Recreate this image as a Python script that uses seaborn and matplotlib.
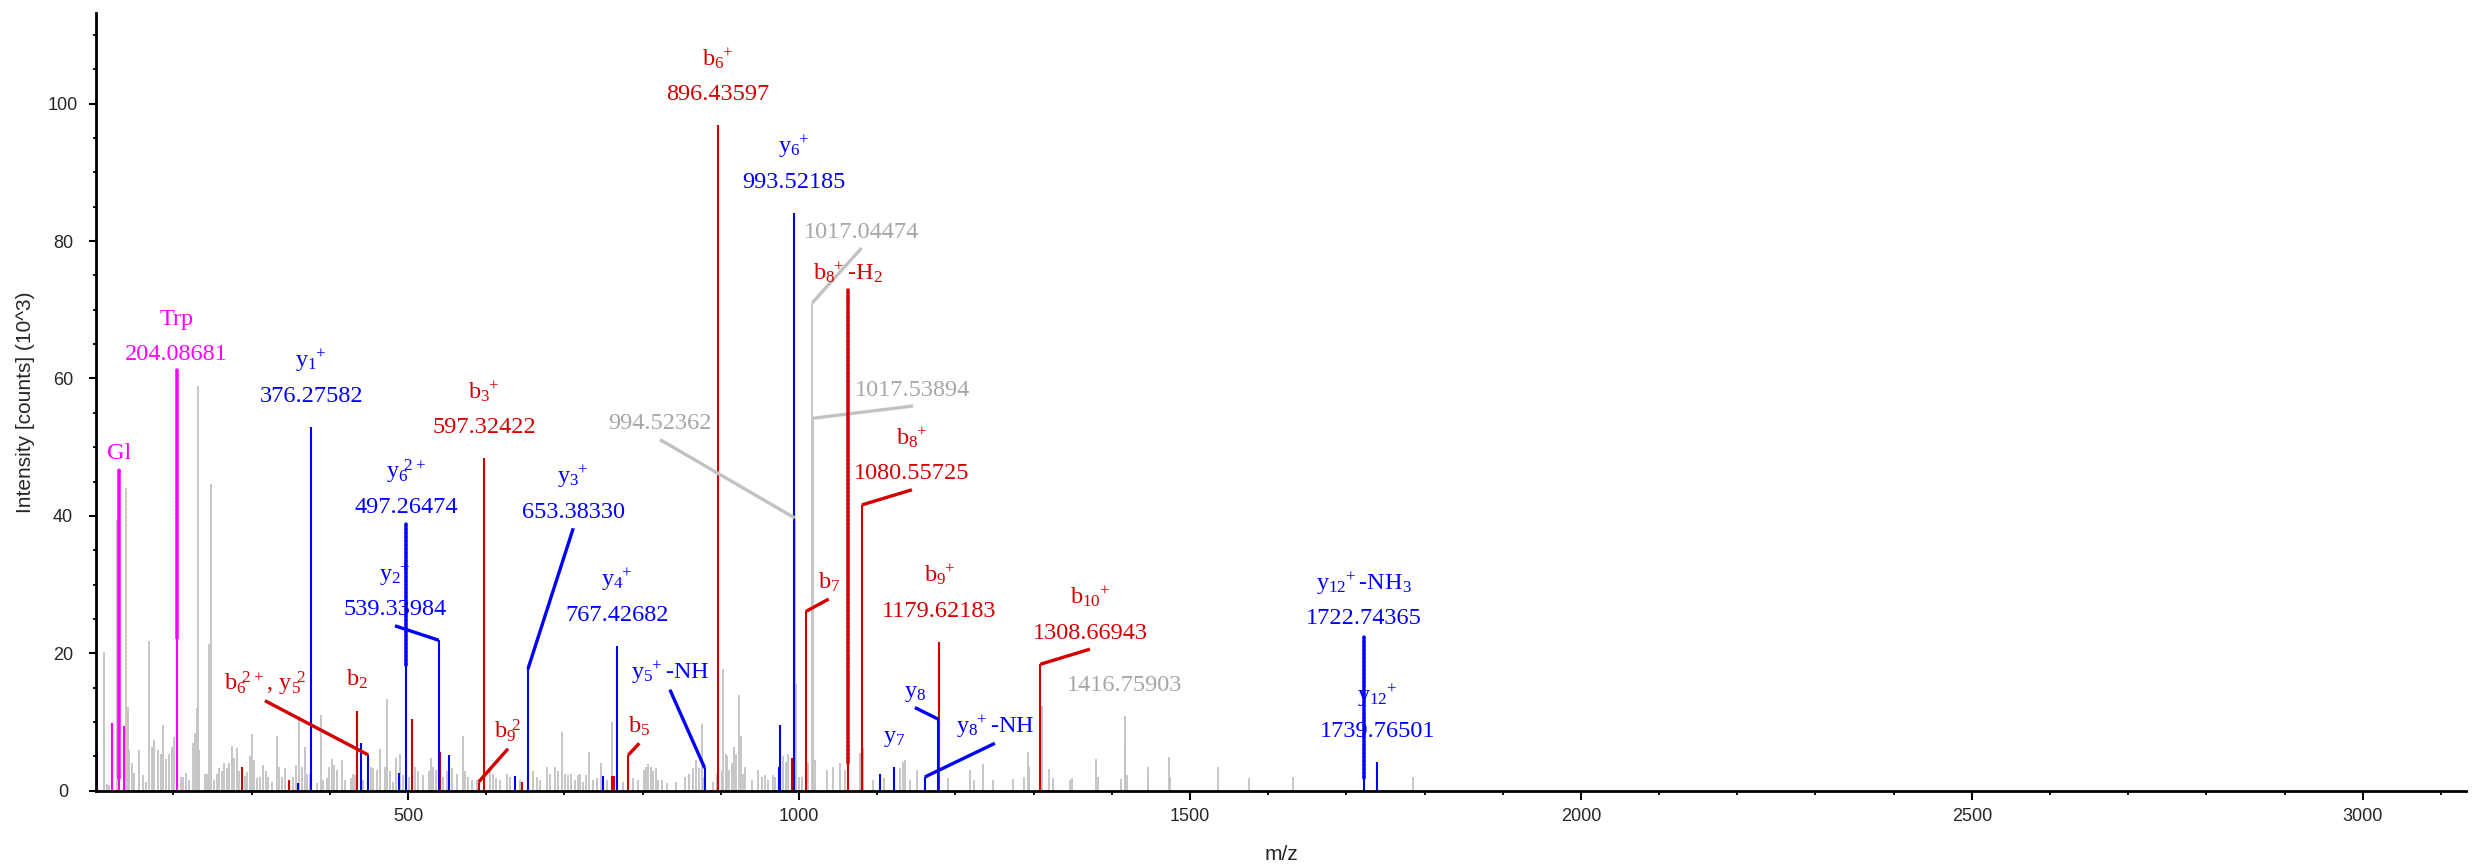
import matplotlib
matplotlib.use("Agg")
import matplotlib.pyplot as plt
from matplotlib.ticker import MultipleLocator
import seaborn as sns

# === Data: peak lists (m/z, intensity in 10^3 counts) ===
gray_mz = [111.3, 115.0, 117.5, 127.5, 139.4, 141.6, 143.7, 146.7, 150.1, 156.1, 160.8, 165.0,
           169.3, 172.3, 175.7, 180.8, 184.2, 187.2, 190.6, 194.4, 197.8, 201.2, 209.3, 212.8,
           216.2, 219.5, 225.5, 227.7, 229.8, 231.1, 233.2, 240.5, 243.4, 246.2, 247.8, 252.0,
           255.4, 258.8, 261.8, 264.8, 268.2, 271.6, 274.6, 277.5, 281.0, 283.9, 291.6, 294.6,
           298.0, 301.0, 303.5, 306.5, 310.8, 314.6, 318.0, 320.6, 325.7, 332.1, 334.7, 338.5,
           342.8, 353.4, 356.8, 360.7, 364.1, 368.3, 371.3, 374.7, 383.3, 388.8, 391.8, 396.0,
           399.5, 402.4, 405.4, 408.8, 415.2, 419.5, 426.7, 429.3, 432.3, 443.0, 452.3, 455.7,
           460.0, 464.2, 470.6, 473.6, 477.0, 481.3, 484.7, 489.8, 493.2, 501.8, 509.0, 513.3,
           519.7, 527.3, 529.5, 532.4, 535.9, 545.2, 549.5, 555.9, 562.3, 570.0, 573.0, 577.2,
           581.5, 587.9, 604.9, 609.2, 612.6, 617.7, 626.2, 630.5, 643.3, 660.3, 664.6, 668.8,
           677.4, 681.6, 688.0, 692.3, 697.4, 700.8, 705.1, 708.5, 713.6, 717.9, 720.0, 723.4,
           727.7, 731.9, 736.2, 741.3, 746.8, 754.1, 760.5, 774.5, 788.2, 794.6, 801.8, 804.4,
           807.4, 810.4, 812.9, 817.2, 820.2, 824.4, 831.7, 842.7, 854.3, 859.8, 864.9, 868.3,
           872.6, 875.6, 877.7, 890.5, 894.8, 901.1, 903.3, 906.3, 908.4, 911.0, 913.9, 916.9,
           919.1, 923.3, 925.4, 928.0, 931.0, 939.5, 948.0, 952.3, 956.6, 960.8, 966.4, 969.3,
           980.0, 983.4, 986.4, 994.52362, 996.2, 999.6, 1003.4, 1011.9, 1017.04474, 1017.53894,
           1020.4, 1035.4, 1044.0, 1052.6, 1059.0, 1078.0, 1082.2, 1095.0, 1108.7, 1129.1,
           1132.5, 1135.5, 1141.9, 1150.4, 1190.9, 1218.6, 1223.8, 1234.8, 1248.5, 1273.3,
           1288.2, 1293.3, 1294.6, 1310.4, 1319.7, 1324.4, 1346.6, 1348.7, 1379.8, 1382.0,
           1411.4, 1416.75903, 1417.4, 1419.1, 1445.9, 1446.8, 1473.2, 1474.5, 1536.3, 1575.5,
           1632.2, 1785.0]
gray_int = [20.2, 1.0, 0.8, 39.4, 44.0, 12.2, 5.9, 4.0, 2.6, 5.9, 2.3, 1.2,
            21.8, 6.4, 7.4, 5.9, 5.4, 9.6, 4.6, 5.3, 6.4, 7.8, 2.0, 2.0,
            2.6, 1.5, 6.9, 8.4, 12.0, 58.9, 5.9, 2.5, 2.5, 21.4, 44.7, 1.6,
            2.5, 3.3, 2.8, 4.0, 3.3, 4.0, 6.5, 4.7, 6.2, 2.8, 2.2, 2.7,
            5.0, 8.3, 4.5, 1.8, 2.0, 3.8, 2.8, 2.0, 1.3, 8.0, 3.5, 2.0,
            3.3, 2.0, 3.8, 10.8, 3.5, 6.4, 2.5, 2.5, 1.1, 11.0, 1.6, 1.8,
            3.5, 4.6, 3.7, 3.0, 4.5, 1.6, 1.8, 2.5, 2.3, 1.6, 3.5, 3.3,
            3.0, 6.1, 3.5, 13.4, 2.8, 1.3, 4.7, 5.4, 2.3, 2.0, 3.5, 2.8,
            2.3, 2.8, 4.7, 3.5, 3.0, 2.0, 2.8, 3.3, 2.5, 7.9, 2.8, 2.0,
            1.6, 1.6, 2.8, 2.5, 1.8, 1.6, 2.5, 2.0, 1.6, 2.8, 2.0, 1.6,
            3.5, 2.5, 3.5, 2.8, 8.5, 2.5, 2.3, 2.5, 1.6, 2.3, 2.5, 1.3,
            2.3, 5.7, 1.6, 1.8, 4.0, 1.6, 10.0, 1.3, 1.8, 1.6, 3.0, 3.5,
            3.9, 3.5, 2.8, 3.3, 1.6, 1.6, 1.1, 1.3, 2.0, 2.5, 3.3, 4.5,
            3.3, 9.7, 2.0, 1.3, 2.5, 2.8, 17.7, 5.4, 5.0, 3.0, 4.0, 6.4,
            5.4, 13.9, 7.9, 2.5, 3.5, 1.6, 3.0, 2.0, 2.3, 1.6, 2.3, 2.0,
            5.0, 4.2, 5.4, 39.7, 15.6, 2.0, 2.0, 4.0, 71.0, 54.2,
            4.5, 3.0, 3.5, 4.0, 3.0, 5.5, 6.2, 1.6, 1.8, 3.3,
            4.2, 4.5, 1.6, 3.0, 1.9, 3.0, 1.6, 3.9, 1.6, 1.7,
            2.0, 5.7, 3.5, 12.3, 3.1, 1.8, 1.6, 1.8, 4.6, 2.0,
            1.7, 10.9, 6.6, 2.3, 3.4, 2.0, 4.9, 2.0, 3.5, 1.8,
            2.0, 2.0]

b_mz = [287.8, 347.9, 434.4, 505.6, 541.0, 590.6, 597.32422, 646.3, 761.5, 763.0, 781.8,
        896.43597, 991.0, 1009.0, 1062.3, 1080.55725, 1179.62183, 1308.66943]
b_int = [3.4, 1.6, 11.6, 10.5, 5.7, 1.3, 48.4, 1.3, 2.1, 2.1, 5.2,
         96.9, 4.8, 26.1, 4.0, 41.6, 21.7, 18.4]

y_mz = [359.8, 376.27582, 440.0, 449.3, 489.0, 497.26474, 539.33984, 552.5, 637.0, 653.3833,
        749.8, 767.42682, 879.5, 974.8, 976.3, 993.52185, 1103.5, 1121.5, 1161.1, 1178.3,
        1722.74365, 1739.76501]
y_int = [1.1, 53.0, 7.0, 5.2, 2.6, 18.3, 21.9, 5.2, 2.1, 17.7,
         2.2, 21.1, 3.3, 3.5, 9.5, 84.1, 2.5, 3.4, 2.0, 10.4,
         1.8, 4.2]

other_mz = [102.8, 121.1, 130.9, 136.9, 204.08681]
other_int = [5.8, 9.8, 1.8, 9.4, 22.2]

# annotated peaks: ion label, m/z label, ion type, peak m/z, peak intensity
ann_ion = ['Gl', 'Trp', r'b$_6\!{}^{2+}$, y$_5\!{}^2$', r'b$_2$', r'y$_1\!{}^+$', r'y$_6\!{}^{2+}$',
           r'y$_2\!{}^+$', r'b$_3\!{}^+$', r'b$_9\!{}^2$', r'y$_3\!{}^+$', r'y$_4\!{}^+$', r'b$_5$',
           r'y$_5\!{}^+$-NH', r'b$_6\!{}^+$', r'y$_6\!{}^+$', None, r'b$_7$', None, None,
           r'b$_8\!{}^+$-H$_2$', r'b$_8\!{}^+$', r'y$_7$', r'y$_8$', r'y$_8\!{}^+$-NH',
           r'b$_9\!{}^+$', r'b$_{10}\!{}^+$', None, r'y$_{12}\!{}^+$-NH$_3$', r'y$_{12}\!{}^+$']
ann_value = [None, '204.08681', None, None, '376.27582', '497.26474',
             '539.33984', '597.32422', None, '653.38330', '767.42682', None,
             None, '896.43597', '993.52185', '994.52362', None, '1017.04474', '1017.53894',
             None, '1080.55725', None, None, None, '1179.62183',
             '1308.66943', '1416.75903', '1722.74365', '1739.76501']
ann_kind = ['other', 'other', 'b', 'b', 'y', 'y',
            'y', 'b', 'b', 'y', 'y', 'b',
            'y', 'b', 'y', 'none', 'b', 'none', 'none',
            'b', 'b', 'y', 'y', 'y', 'b',
            'b', 'none', 'y', 'y']
ann_mz = [130.9, 204.08681, 449.3, 434.4, 376.27582, 497.26474,
          539.33984, 597.32422, 590.6, 653.3833, 767.42682, 781.8,
          879.5, 896.43597, 993.52185, 994.52362, 1009.0, 1017.04474, 1017.53894,
          1062.3, 1080.55725, 1121.5, 1178.3, 1161.1, 1179.62183,
          1308.66943, 1416.75903, 1722.74365, 1739.76501]
ann_int = [1.8, 22.2, 5.2, 11.6, 53.0, 18.3,
           21.9, 48.4, 1.3, 17.7, 21.1, 5.2,
           3.3, 96.9, 84.1, 39.7, 26.1, 71.0, 54.2,
           4.0, 41.6, 3.4, 10.4, 2.0, 21.7,
           18.4, 10.9, 1.8, 4.2]

# === Layout: where leader lines end (data coords); 'v' = raised vertical dotted leader ===
leaders = {
    0: ('v', 130.9, 46.7), 1: ('v', 204.08681, 61.2), 2: ('s', 317.1, 13.1),
    5: ('v', 497.26474, 38.9), 6: ('s', 483.4, 24.0), 8: ('s', 627.9, 6.1),
    9: ('s', 711.4, 38.2), 11: ('s', 795.8, 6.9), 12: ('s', 835.0, 14.7),
    15: ('s', 822.3, 51.1), 16: ('s', 1038.1, 27.9), 17: ('s', 1080.2, 79.0),
    18: ('s', 1145.8, 56.0), 19: ('v', 1062.3, 72.9), 20: ('s', 1144.5, 43.8),
    22: ('s', 1148.3, 12.1), 23: ('s', 1250.6, 6.9), 25: ('s', 1372.1, 20.6),
    27: ('v', 1722.74365, 22.7),
}

colors = {'b': '#d40000', 'y': '#0000ff', 'other': '#ff00ff', 'none': '#c2c2c2'}
text_colors = {'b': '#d40000', 'y': '#0000ff', 'other': '#ff00ff', 'none': '#a6a6a6'}

# === Style ===
sns.set_theme(style='ticks')
plt.rcParams['font.family'] = ['Liberation Sans', 'DejaVu Sans']
plt.rcParams['mathtext.fontset'] = 'custom'
plt.rcParams['mathtext.rm'] = 'Liberation Serif'
plt.rcParams['mathtext.default'] = 'regular'

fig = plt.figure(figsize=(24.73, 8.65), dpi=100)
ax = fig.add_axes([0.0388, 0.0859, 0.9584, 0.8991])

# === Peaks ===
ax.vlines(gray_mz, 0, gray_int, colors=colors['none'], linewidth=1.3, zorder=1)
ax.vlines(other_mz, 0, other_int, colors=colors['other'], linewidth=1.5, zorder=2)
ax.vlines(b_mz, 0, b_int, colors=colors['b'], linewidth=1.5, zorder=2)
ax.vlines(y_mz, 0, y_int, colors=colors['y'], linewidth=1.5, zorder=2)

# === Annotations ===
serif = ['Liberation Serif', 'DejaVu Serif']
for i in range(len(ann_mz)):
    c = colors[ann_kind[i]]
    tc = text_colors[ann_kind[i]]
    x0, y0 = ann_mz[i], ann_int[i]
    if i in leaders:
        kind, lx, ly = leaders[i]
        if kind == 'v':
            ax.plot([x0, lx], [y0, ly], color=c, linewidth=2.6, linestyle=(0, (0.5, 0.6)),
                    dash_capstyle='round', zorder=3)
        else:
            ax.plot([x0, lx], [y0, ly], color=c, linewidth=2.4, solid_capstyle='butt', zorder=3)
        anchor, off = (lx, ly), 7.5
    else:
        anchor, off = (x0, y0), 18
    kw = dict(textcoords='offset points', ha='center', va='baseline', color=tc,
              fontsize=17.5, family=serif, zorder=4)
    if ann_value[i] is not None:
        ax.annotate(ann_value[i], anchor, xytext=(0, off), **kw)
        off += 25
    if ann_ion[i] is not None:
        ax.annotate(ann_ion[i], anchor, xytext=(0, off), **kw)

# === Axes ===
ax.set_xlim(101, 3132)
ax.set_ylim(0, 113.2)
ax.xaxis.set_major_locator(MultipleLocator(500))
ax.xaxis.set_minor_locator(MultipleLocator(100))
ax.yaxis.set_major_locator(MultipleLocator(20))
ax.yaxis.set_minor_locator(MultipleLocator(5))
sns.despine(ax=ax)
for s in ['left', 'bottom']:
    ax.spines[s].set_linewidth(2.0)
    ax.spines[s].set_color('black')
ax.tick_params(axis='x', which='major', direction='out', length=6.7, width=1.5,
               pad=6, labelsize=13, color='black')
ax.tick_params(axis='x', which='minor', direction='out', length=3, width=1.3, color='black')
ax.tick_params(axis='y', which='major', direction='out', length=5.3, width=1.5,
               pad=18.5, labelsize=13, color='black')
ax.tick_params(axis='y', which='minor', direction='out', length=2.5, width=1.3, color='black')
plt.setp(ax.get_yticklabels(), ha='center')
ax.set_xlabel('m/z', fontsize=15, labelpad=14)
ax.set_ylabel('Intensity [counts] (10^3)', fontsize=15, labelpad=9)

fig.savefig('out.png', dpi=100, facecolor='white')
